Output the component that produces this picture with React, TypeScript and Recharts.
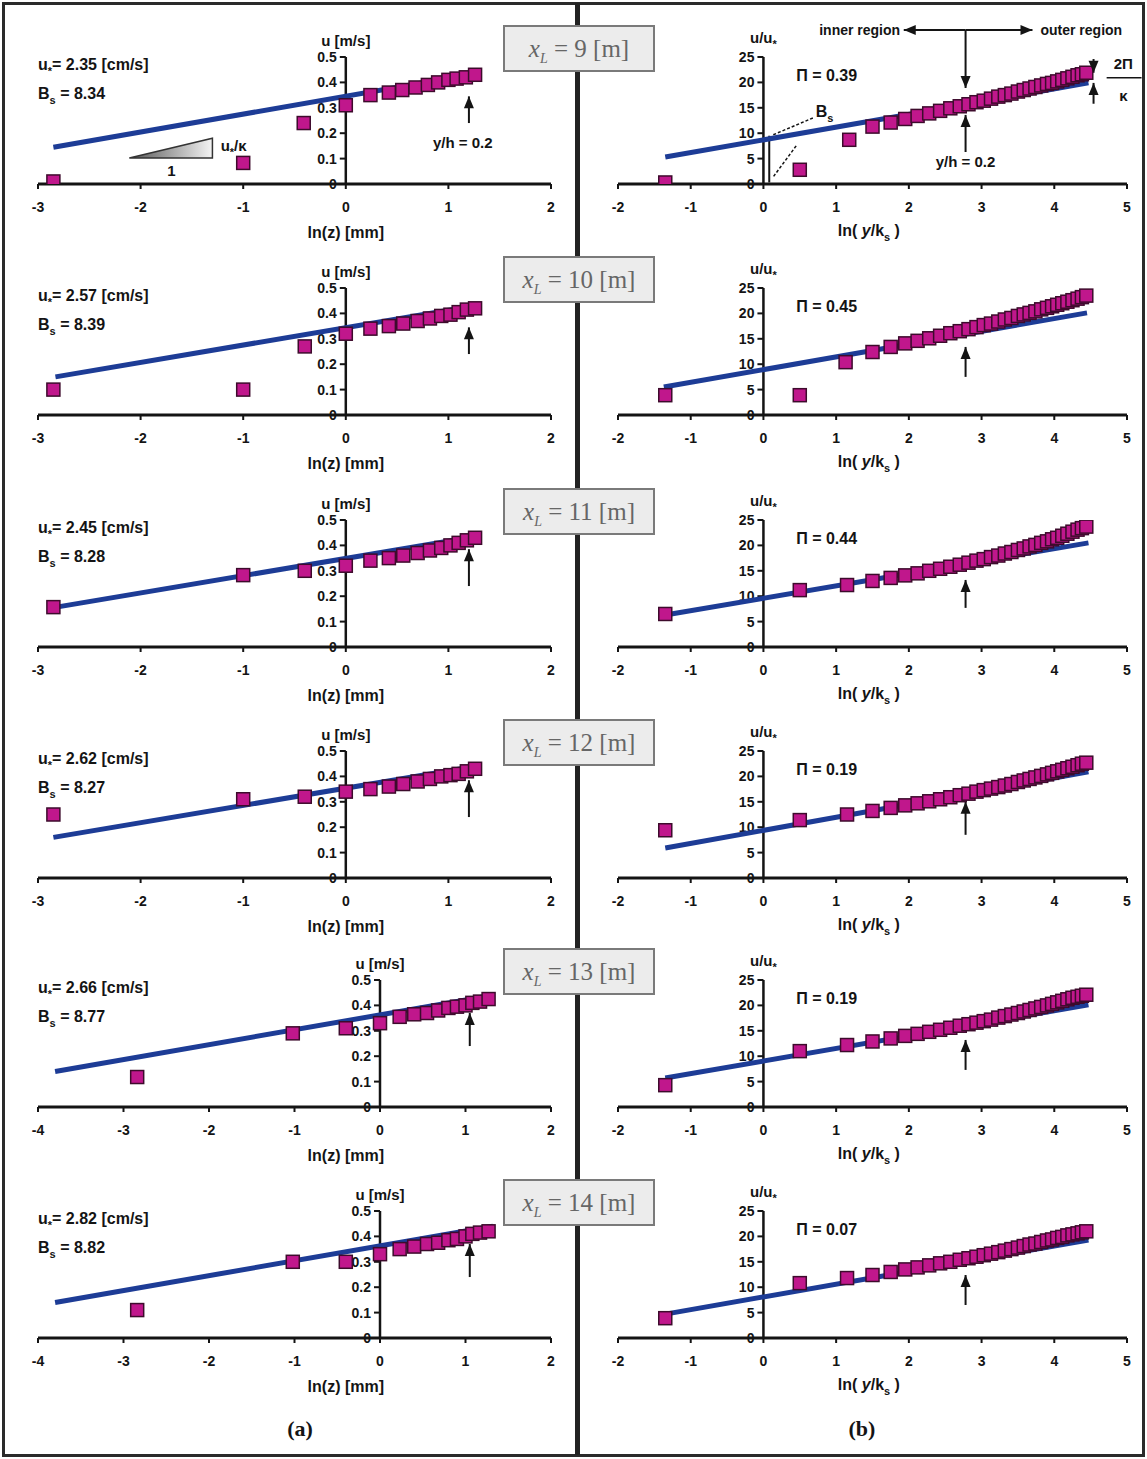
import React from 'react'
import { ScatterChart, Scatter, XAxis, YAxis, ReferenceLine, ReferenceDot } from 'recharts'

type Pair = [number, number]

// stations and fitted parameters
const stations = ['9', '10', '11', '12', '13', '14']
const uStar = ['2.35', '2.57', '2.45', '2.62', '2.66', '2.82']
const bS = ['8.34', '8.39', '8.28', '8.27', '8.77', '8.82']
const piValues = ['0.39', '0.45', '0.44', '0.19', '0.19', '0.07']

// axis ticks
const lnZTicks = [-3, -2, -1, 0, 1, 2]
const lnZTicksWide = [-4, -3, -2, -1, 0, 1, 2]
const lnYTicks = [-2, -1, 0, 1, 2, 3, 4, 5]
const velTicks = [0, 0.1, 0.2, 0.3, 0.4, 0.5]
const defectTicks = [0, 5, 10, 15, 20, 25]

// (a) mean velocity u [m/s] vs ln(z)
const vel9: Pair[] = [[-2.85, 0.01], [-1.0, 0.083], [-0.41, 0.24], [0, 0.31], [0.24, 0.35], [0.42, 0.36], [0.55, 0.37], [0.68, 0.38], [0.8, 0.39], [0.9, 0.4], [1.0, 0.41], [1.08, 0.415], [1.17, 0.42], [1.26, 0.43]]
const vel10: Pair[] = [[-2.85, 0.1], [-1.0, 0.1], [-0.4, 0.27], [0, 0.32], [0.24, 0.34], [0.42, 0.35], [0.56, 0.36], [0.7, 0.37], [0.82, 0.38], [0.93, 0.39], [1.02, 0.395], [1.1, 0.405], [1.18, 0.415], [1.26, 0.42]]
const vel11: Pair[] = [[-2.85, 0.157], [-1.0, 0.283], [-0.4, 0.3], [0, 0.32], [0.24, 0.34], [0.42, 0.35], [0.56, 0.36], [0.7, 0.37], [0.82, 0.38], [0.93, 0.39], [1.02, 0.4], [1.1, 0.41], [1.18, 0.42], [1.26, 0.43]]
const vel12: Pair[] = [[-2.85, 0.25], [-1.0, 0.31], [-0.4, 0.32], [0, 0.34], [0.24, 0.35], [0.42, 0.36], [0.56, 0.37], [0.7, 0.38], [0.82, 0.39], [0.93, 0.4], [1.02, 0.405], [1.1, 0.41], [1.18, 0.42], [1.26, 0.43]]
const vel13: Pair[] = [[-2.84, 0.118], [-1.02, 0.29], [-0.4, 0.31], [0, 0.33], [0.23, 0.355], [0.4, 0.365], [0.55, 0.37], [0.68, 0.38], [0.8, 0.39], [0.9, 0.395], [1.0, 0.4], [1.08, 0.41], [1.17, 0.415], [1.27, 0.425]]
const vel14: Pair[] = [[-2.84, 0.11], [-1.02, 0.3], [-0.4, 0.3], [0, 0.33], [0.23, 0.35], [0.4, 0.36], [0.55, 0.37], [0.68, 0.375], [0.8, 0.385], [0.9, 0.39], [1.0, 0.4], [1.08, 0.41], [1.17, 0.415], [1.27, 0.42]]

// log-law fits for (a)
const fitVel9: Pair[] = [[-2.85, 0.145], [1.27, 0.435]]
const fitVel10: Pair[] = [[-2.83, 0.15], [1.26, 0.43]]
const fitVel11: Pair[] = [[-2.85, 0.155], [1.27, 0.435]]
const fitVel12: Pair[] = [[-2.85, 0.16], [1.27, 0.44]]
const fitVel13: Pair[] = [[-3.8, 0.14], [1.32, 0.44]]
const fitVel14: Pair[] = [[-3.8, 0.14], [1.32, 0.44]]

// (b) u/u* vs ln(y/ks)
const prof9: Pair[] = [[-1.35, 0.3], [0.5, 2.8], [1.18, 8.7], [1.5, 11.3], [1.75, 12.1], [1.95, 12.8], [2.12, 13.4], [2.28, 13.9], [2.43, 14.4], [2.57, 14.9], [2.7, 15.3], [2.82, 15.7], [2.93, 16.1], [3.03, 16.4], [3.13, 16.8], [3.23, 17.2], [3.32, 17.5], [3.41, 17.8], [3.5, 18.2], [3.58, 18.5], [3.66, 18.8], [3.74, 19.1], [3.82, 19.4], [3.9, 19.7], [3.97, 19.9], [4.04, 20.2], [4.11, 20.5], [4.18, 20.8], [4.25, 21.1], [4.32, 21.4], [4.38, 21.6], [4.44, 21.9]]
const prof10: Pair[] = [[-1.35, 3.9], [0.5, 3.9], [1.13, 10.4], [1.5, 12.4], [1.75, 13.4], [1.95, 14.1], [2.12, 14.6], [2.28, 15.1], [2.43, 15.6], [2.57, 16.1], [2.7, 16.5], [2.82, 16.9], [2.93, 17.3], [3.03, 17.7], [3.13, 18.0], [3.23, 18.4], [3.32, 18.8], [3.41, 19.1], [3.5, 19.5], [3.58, 19.8], [3.66, 20.1], [3.74, 20.4], [3.82, 20.8], [3.9, 21.1], [3.97, 21.4], [4.04, 21.7], [4.11, 22.0], [4.18, 22.3], [4.25, 22.6], [4.32, 22.9], [4.38, 23.2], [4.44, 23.5]]
const prof11: Pair[] = [[-1.35, 6.5], [0.5, 11.2], [1.15, 12.2], [1.5, 13.0], [1.75, 13.6], [1.95, 14.1], [2.12, 14.5], [2.28, 15.0], [2.43, 15.4], [2.57, 15.8], [2.7, 16.2], [2.82, 16.6], [2.93, 17.0], [3.03, 17.3], [3.13, 17.7], [3.23, 18.0], [3.32, 18.4], [3.41, 18.7], [3.5, 19.1], [3.58, 19.4], [3.66, 19.8], [3.74, 20.1], [3.82, 20.5], [3.9, 20.8], [3.97, 21.2], [4.04, 21.5], [4.11, 21.9], [4.18, 22.3], [4.25, 22.7], [4.32, 23.1], [4.38, 23.4], [4.44, 23.7]]
const prof12: Pair[] = [[-1.35, 9.4], [0.5, 11.4], [1.15, 12.5], [1.5, 13.2], [1.75, 13.8], [1.95, 14.3], [2.12, 14.7], [2.28, 15.1], [2.43, 15.5], [2.57, 15.9], [2.7, 16.3], [2.82, 16.6], [2.93, 17.0], [3.03, 17.3], [3.13, 17.6], [3.23, 17.9], [3.32, 18.2], [3.41, 18.5], [3.5, 18.9], [3.58, 19.2], [3.66, 19.5], [3.74, 19.8], [3.82, 20.1], [3.9, 20.4], [3.97, 20.7], [4.04, 21.0], [4.11, 21.3], [4.18, 21.6], [4.25, 21.9], [4.32, 22.2], [4.38, 22.5], [4.44, 22.7]]
const prof13: Pair[] = [[-1.35, 4.3], [0.5, 11.0], [1.15, 12.2], [1.5, 12.9], [1.75, 13.5], [1.95, 14.0], [2.12, 14.4], [2.28, 14.8], [2.43, 15.2], [2.57, 15.6], [2.7, 16.0], [2.82, 16.3], [2.93, 16.6], [3.03, 16.9], [3.13, 17.2], [3.23, 17.6], [3.32, 17.9], [3.41, 18.2], [3.5, 18.5], [3.58, 18.8], [3.66, 19.1], [3.74, 19.4], [3.82, 19.7], [3.9, 20.0], [3.97, 20.3], [4.04, 20.6], [4.11, 20.9], [4.18, 21.2], [4.25, 21.5], [4.32, 21.7], [4.38, 21.9], [4.44, 22.1]]
const prof14: Pair[] = [[-1.35, 3.9], [0.5, 10.8], [1.15, 11.8], [1.5, 12.4], [1.75, 13.0], [1.95, 13.5], [2.12, 13.9], [2.28, 14.3], [2.43, 14.7], [2.57, 15.0], [2.7, 15.4], [2.82, 15.7], [2.93, 16.0], [3.03, 16.3], [3.13, 16.6], [3.23, 16.9], [3.32, 17.2], [3.41, 17.5], [3.5, 17.8], [3.58, 18.1], [3.66, 18.4], [3.74, 18.6], [3.82, 18.9], [3.9, 19.2], [3.97, 19.4], [4.04, 19.7], [4.11, 19.9], [4.18, 20.2], [4.25, 20.4], [4.32, 20.6], [4.38, 20.8], [4.44, 21.0]]

const fitProf9: Pair[] = [[-1.35, 5.3], [4.47, 19.9]]
const fitProf10: Pair[] = [[-1.37, 5.5], [4.45, 20.1]]
const fitProf11: Pair[] = [[-1.35, 6.3], [4.47, 20.5]]
const fitProf12: Pair[] = [[-1.35, 5.9], [4.47, 20.9]]
const fitProf13: Pair[] = [[-1.35, 5.7], [4.47, 20.1]]
const fitProf14: Pair[] = [[-1.35, 4.7], [4.47, 19.3]]

// y/h = 0.2 markers
const arrowTipA = [0.345, 0.345, 0.385, 0.385, 0.37, 0.37]
const arrowTipB = [13.6, 13.4, 13.2, 15.0, 13.2, 12.4]
const arrowBaseB = [6.3, 7.5, 7.7, 8.5, 7.3, 6.5]

const velSets = [vel9, vel10, vel11, vel12, vel13, vel14]
const velFits = [fitVel9, fitVel10, fitVel11, fitVel12, fitVel13, fitVel14]
const profSets = [prof9, prof10, prof11, prof12, prof13, prof14]
const profFits = [fitProf9, fitProf10, fitProf11, fitProf12, fitProf13, fitProf14]

const zeroY = [184, 415, 647, 878, 1107, 1338]

const ink = '#141414'
const sans = '"Liberation Sans", Arial, sans-serif'
const serif = '"Liberation Serif", "Times New Roman", serif'
const CH = 250
const MT = 50

const toPts = (a: Pair[]) => a.map(([x, y]) => ({ x, y }))

const square = (p: any) => (
  <rect x={p.cx - 6.5} y={p.cy - 6.5} width={13} height={13} fill="#c0178c" stroke="#3d0b2c" strokeWidth={1.5} />
)

const tip = (dir: string) => (p: any) => {
  const { cx, cy } = p
  let pts = ''
  if (dir === 'up') pts = `${cx},${cy} ${cx - 5},${cy + 12} ${cx + 5},${cy + 12}`
  if (dir === 'down') pts = `${cx},${cy} ${cx - 5},${cy - 12} ${cx + 5},${cy - 12}`
  if (dir === 'left') pts = `${cx},${cy} ${cx + 12},${cy - 5} ${cx + 12},${cy + 5}`
  if (dir === 'right') pts = `${cx},${cy} ${cx - 12},${cy - 5} ${cx - 12},${cy + 5}`
  return <polygon points={pts} fill={ink} />
}

function arrow(key: string, x1: number, y1: number, x2: number, y2: number, dir: string) {
  return [
    <ReferenceLine key={key + 's'} segment={[{ x: x1, y: y1 }, { x: x2, y: y2 }]} stroke={ink} strokeWidth={2} ifOverflow="visible" />,
    <ReferenceDot key={key + 'h'} x={x2} y={y2} r={0} ifOverflow="visible" shape={tip(dir)} />,
  ]
}

function note(key: string, x: number, y: number, content: React.ReactNode, o: any = {}) {
  return (
    <ReferenceDot
      key={key}
      x={x}
      y={y}
      r={0}
      ifOverflow="visible"
      shape={(p: any) => (
        <text
          x={p.cx + (o.dx || 0)}
          y={p.cy + (o.dy || 0)}
          textAnchor={o.anchor || 'start'}
          fontSize={o.size || 16}
          fontWeight={o.weight || 700}
          fontFamily={o.family || sans}
          fontStyle={o.italic ? 'italic' : 'normal'}
          fill={ink}
        >
          {content}
        </text>
      )}
    />
  )
}

function Panel(props: any) {
  const { left, top, width, ml, mr, xDomain, xTicks, yDomain, yTicks, fmt, points, fit, children } = props
  return (
    <div style={{ position: 'absolute', left, top }}>
      <ScatterChart width={width} height={CH} margin={{ top: MT, right: mr, bottom: 20, left: ml }}>
        <XAxis
          type="number"
          dataKey="x"
          domain={xDomain}
          ticks={xTicks}
          interval={0}
          allowDataOverflow
          height={53}
          axisLine={{ stroke: ink, strokeWidth: 3 }}
          tickLine={{ stroke: ink, strokeWidth: 2 }}
          tickSize={5}
          tickMargin={13}
          tick={{ fill: ink, fontSize: 14, fontWeight: 700, fontFamily: sans }}
        />
        <YAxis type="number" dataKey="y" domain={yDomain} hide allowDataOverflow />
        <ReferenceLine segment={[{ x: 0, y: yDomain[0] }, { x: 0, y: yDomain[1] }]} stroke={ink} strokeWidth={2.5} ifOverflow="visible" />
        {yTicks.map((v: number) => (
          <ReferenceDot
            key={'yt' + v}
            x={0}
            y={v}
            r={0}
            ifOverflow="visible"
            shape={(p: any) => (
              <g>
                <line x1={p.cx - 6} x2={p.cx} y1={p.cy} y2={p.cy} stroke={ink} strokeWidth={2} />
                <text x={p.cx - 9} y={p.cy + 5} textAnchor="end" fontSize={14} fontWeight={700} fontFamily={sans} fill={ink}>
                  {fmt(v)}
                </text>
              </g>
            )}
          />
        ))}
        <Scatter data={toPts(fit)} line={{ stroke: '#1d3c96', strokeWidth: 5 }} shape={() => <g />} isAnimationActive={false} />
        <Scatter data={toPts(points)} shape={square} isAnimationActive={false} />
        {children}
      </ScatterChart>
    </div>
  )
}

const sub = (s: string) => <tspan dy={5} fontSize={11}>{s}</tspan>

function StationBox({ top, label }: { top: number; label: string }) {
  return (
    <div
      style={{
        position: 'absolute',
        left: 503,
        top,
        width: 148,
        height: 43,
        background: '#ececec',
        border: '2px solid #7a7a7a',
        color: '#666',
        fontFamily: serif,
        fontSize: 25,
        lineHeight: '43px',
        textAlign: 'center',
        zIndex: 2,
      }}
    >
      <i>x</i>
      <sub style={{ fontSize: 14, fontStyle: 'italic' }}>L</sub> = {label} [m]
    </div>
  )
}

export default function App() {
  return (
    <div style={{ position: 'absolute', left: 0, top: 0, width: 1147, height: 1459, background: '#fff', overflow: 'hidden' }}>
      <div style={{ position: 'absolute', left: 2, top: 2, width: 1137, height: 1449, border: '3px solid #2a2a2a' }} />
      <div style={{ position: 'absolute', left: 575, top: 3, width: 5, height: 1452, background: '#222' }} />

      {stations.map((st, i) => {
        const wide = i >= 4
        const x0 = wide ? -4 : -3
        const tipX = wide ? 1.05 : 1.2
        const z = zeroY[i]
        return (
          <React.Fragment key={st}>
            <Panel
              left={0}
              top={z - 177}
              width={580}
              ml={38}
              mr={29}
              xDomain={[x0, 2]}
              xTicks={wide ? lnZTicksWide : lnZTicks}
              yDomain={[0, 0.5]}
              yTicks={velTicks}
              fmt={(v: number) => (v === 0 ? '0' : v.toFixed(1))}
              points={velSets[i]}
              fit={velFits[i]}
            >
              {note('us', x0, 0.45, <>u{sub('*')}<tspan dy={-5}>= {uStar[i]}{i === 0 ? ' ' : '  '}[cm/s]</tspan></>)}
              {note('bs', x0, 0.335, <>B{sub('s')}<tspan dy={-5}> = {bS[i]}</tspan></>)}
              {note('yl', 0, 0.5, 'u [m/s]', { anchor: 'middle', dy: -11, size: 15 })}
              {note('xl', wide ? -0.4 : 0, 0, 'ln(z) [mm]', { anchor: 'middle', dy: 54, size: 16 })}
              {arrow('ar', tipX, 0.24, tipX, arrowTipA[i], 'up')}
              {i === 0 && note('yh', 0.85, 0.14, 'y/h = 0.2', { size: 15 })}
              {i === 0 && (
                <ReferenceLine
                  segment={[{ x: -2.11, y: 0.102 }, { x: -1.3, y: 0.18 }]}
                  ifOverflow="visible"
                  shape={(p: any) => (
                    <g>
                      <defs>
                        <linearGradient id="slopeFill" x1="0" y1="0" x2="1" y2="0">
                          <stop offset="0" stopColor="#555" />
                          <stop offset="1" stopColor="#f4f4f4" />
                        </linearGradient>
                      </defs>
                      <polygon
                        points={`${p.x1},${p.y1} ${p.x2},${p.y1} ${p.x2},${p.y2}`}
                        fill="url(#slopeFill)"
                        stroke="#333"
                        strokeWidth={1.5}
                      />
                    </g>
                  )}
                />
              )}
              {i === 0 && note('sl', -1.22, 0.13, <>u{sub('*')}<tspan dy={-5}>/κ</tspan></>, { size: 15 })}
              {i === 0 && note('one', -1.7, 0.03, '1', { anchor: 'middle', size: 15 })}
            </Panel>

            <Panel
              left={580}
              top={z - 177}
              width={567}
              ml={38}
              mr={20}
              xDomain={[-2, 5]}
              xTicks={lnYTicks}
              yDomain={[0, 25]}
              yTicks={defectTicks}
              fmt={(v: number) => String(v)}
              points={profSets[i]}
              fit={profFits[i]}
            >
              {note('yl', 0, 25, <>u/u{sub('*')}</>, { anchor: 'middle', dy: -14, size: 15 })}
              {note('pi', 0.45, 20.2, `Π = ${piValues[i]}`, { size: 16 })}
              {note('xl', 1.45, 0, <>ln( <tspan fontStyle="italic">y</tspan>/k{sub('s')}<tspan dy={-5}> )</tspan></>, { anchor: 'middle', dy: 52, size: 16 })}
              {arrow('ar', 2.78, arrowBaseB[i], 2.78, arrowTipB[i], 'up')}
              {i === 0 && note('yh', 2.78, 3.3, 'y/h = 0.2', { anchor: 'middle', size: 15 })}
              {i === 0 && note('inner', 1.88, 30.3, 'inner region', { anchor: 'end', dy: 5, size: 14 })}
              {i === 0 && note('outer', 3.81, 30.3, 'outer region', { dy: 5, size: 14 })}
              {i === 0 && arrow('il', 2.78, 30.3, 1.93, 30.3, 'left')}
              {i === 0 && arrow('ol', 2.78, 30.3, 3.7, 30.3, 'right')}
              {i === 0 && arrow('dn', 2.78, 30.3, 2.78, 18.9, 'down')}
              {i === 0 && arrow('wt', 4.54, 24.6, 4.54, 21.9, 'down')}
              {i === 0 && arrow('wb', 4.54, 15.8, 4.54, 19.9, 'up')}
              {i === 0 && note('w2', 4.95, 22.6, '2Π', { anchor: 'middle', size: 15 })}
              {i === 0 && (
                <ReferenceLine segment={[{ x: 4.72, y: 20.9 }, { x: 5.2, y: 20.9 }]} stroke={ink} strokeWidth={1.5} ifOverflow="visible" />
              )}
              {i === 0 && note('wk', 4.95, 16.4, 'κ', { anchor: 'middle', size: 15 })}
              {i === 0 && note('bs', 0.72, 13.2, <>B{sub('s')}</>, { size: 16 })}
              {i === 0 && (
                <ReferenceLine segment={[{ x: 0.68, y: 13.0 }, { x: 0.12, y: 9.6 }]} stroke={ink} strokeWidth={1.5} strokeDasharray="3 2" ifOverflow="visible" />
              )}
              {i === 0 && (
                <ReferenceLine segment={[{ x: 0.45, y: 7.5 }, { x: 0.14, y: 1.5 }]} stroke={ink} strokeWidth={1.5} strokeDasharray="3 2" ifOverflow="visible" />
              )}
              {i === 0 && (
                <ReferenceLine segment={[{ x: 0.08, y: 0.3 }, { x: 0.08, y: 9.5 }]} stroke={ink} strokeWidth={2} ifOverflow="visible" />
              )}
            </Panel>

            <StationBox top={z - 159} label={st} />
          </React.Fragment>
        )
      })}

      <div style={{ position: 'absolute', left: 280, top: 1416, width: 40, textAlign: 'center', fontFamily: serif, fontWeight: 700, fontSize: 22, color: ink }}>(a)</div>
      <div style={{ position: 'absolute', left: 842, top: 1416, width: 40, textAlign: 'center', fontFamily: serif, fontWeight: 700, fontSize: 22, color: ink }}>(b)</div>
    </div>
  )
}
